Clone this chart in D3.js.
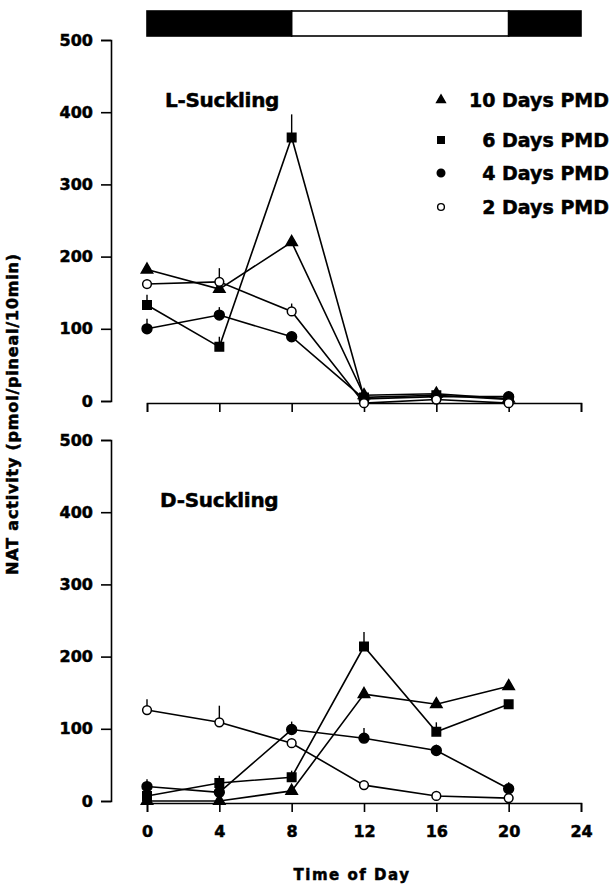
<!DOCTYPE html>
<html>
<head>
<meta charset="utf-8">
<script src="https://cdn.jsdelivr.net/npm/d3@7"></script>
<style>
  body { margin: 0; background: #fff; }
  svg { display: block; font-family: "DejaVu Sans", sans-serif; font-weight: bold; }
  svg text { fill: #000; stroke: #000; stroke-width: 0.5; }
  .axis path, .axis line { stroke: #000; stroke-width: 1.6; fill: none; }
  .axis text { font-family: "DejaVu Sans", sans-serif; font-weight: bold; font-size: 16px; }
  .series-line { fill: none; stroke: #000; stroke-width: 1.6; }
  .err { stroke: #000; stroke-width: 1.4; }
</style>
</head>
<body>
<div id="d3-target"></div>
<script>
const hours = [0, 4, 8, 12, 16, 20];
const xTicks = [0, 4, 8, 12, 16, 20, 24];
const yTicks = [0, 100, 200, 300, 400, 500];
const seriesNames = ['10 Days PMD', '6 Days PMD', '4 Days PMD', '2 Days PMD'];
const panelNames = ['L-Suckling', 'D-Suckling'];

// L-Suckling, NAT activity per time point
const l10 = [182, 155, 220, 8, 10, 3];
const l6 = [133, 75, 365, 5, 8, 2];
const l4 = [100, 119, 89, 3, 6, 6];
const l2 = [162, 165, 124, -3, 2, -3];
// L-Suckling, SEM (upper bar only)
const l10Err = [6, 6, 6, 4, 6, 3];
const l6Err = [14, 14, 32, 4, 4, 3];
const l4Err = [14, 11, 5, 3, 4, 4];
const l2Err = [6, 19, 11, 2, 3, 2];

// D-Suckling
const d10 = [0, 0, 14, 148, 134, 159];
const d6 = [7, 25, 33, 214, 96, 134];
const d4 = [20, 12, 99, 87, 70, 17];
const d2 = [126, 109, 80, 22, 7, 4];
const d10Err = [5, 5, 3, 5, 5, 3];
const d6Err = [8, 10, 9, 20, 13, 4];
const d4Err = [10, 8, 11, 14, 8, 9];
const d2Err = [15, 23, 5, 4, 5, 3];

// light/dark bar: [start, end, dark]
const lightPhases = [[0, 8, true], [8, 20, false], [20, 24, true]];

const width = 614, height = 886;

const x = d3.scaleLinear()
  .domain([0, 24])
  .range([147, 581]);

const panels = [
  {name: panelNames[0], top: 40, bottom: 401, labelX: 165,
   series: [[l10, l10Err], [l6, l6Err], [l4, l4Err], [l2, l2Err]]},
  {name: panelNames[1], top: 440, bottom: 801, labelX: 160,
   series: [[d10, d10Err], [d6, d6Err], [d4, d4Err], [d2, d2Err]]}
];

const symbols = [
  {type: d3.symbolTriangle, size: 56, fill: '#000'},
  {type: d3.symbolSquare, size: 72, fill: '#000'},
  {type: d3.symbolCircle, size: 76, fill: '#000'},
  {type: d3.symbolCircle, size: 60, fill: '#fff'}
];

const svg = d3.select('#d3-target')
  .append('svg')
  .attr('width', width)
  .attr('height', height);

// light:dark bar above the chart
svg.append('g')
  .selectAll('rect')
  .data(lightPhases)
  .enter().append('rect')
    .attr('x', d => x(d[0]))
    .attr('y', 11)
    .attr('width', d => x(d[1]) - x(d[0]))
    .attr('height', 25)
    .attr('fill', d => d[2] ? '#000' : '#fff')
    .attr('stroke', '#000')
    .attr('stroke-width', 1.6);

panels.forEach((p, pi) => {
  const y = d3.scaleLinear()
    .domain([0, 500])
    .range([p.bottom, p.top]);

  const g = svg.append('g');

  g.append('g')
    .attr('class', 'y axis')
    .attr('transform', 'translate(111,0)')
    .call(d3.axisLeft(y).tickValues(yTicks).tickSize(10).tickPadding(8));

  const xAxis = d3.axisBottom(x)
    .tickValues(xTicks)
    .tickSize(9)
    .tickPadding(14);
  if (pi === 0) xAxis.tickFormat('');

  g.append('g')
    .attr('class', 'x axis')
    .attr('transform', `translate(0,${y(0) + 2})`)
    .call(xAxis);

  g.append('text')
    .attr('x', p.labelX)
    .attr('y', y(0) - 294)
    .attr('font-size', 20)
    .attr('letter-spacing', -0.3)
    .text(p.name);

  const line = d3.line()
    .x((d, i) => x(hours[i]))
    .y(d => y(d));

  p.series.forEach(([vals, errs]) => {
    g.append('path')
      .datum(vals)
      .attr('class', 'series-line')
      .attr('d', line);

    g.selectAll(null)
      .data(vals)
      .enter().append('line')
        .attr('class', 'err')
        .attr('x1', (d, i) => x(hours[i]))
        .attr('x2', (d, i) => x(hours[i]))
        .attr('y1', d => y(d))
        .attr('y2', (d, i) => y(d + errs[i]));
  });

  p.series.forEach(([vals], si) => {
    const s = symbols[si];
    g.selectAll(null)
      .data(vals)
      .enter().append('path')
        .attr('d', d3.symbol().type(s.type).size(s.size))
        .attr('transform', (d, i) => `translate(${x(hours[i])},${y(d)})`)
        .attr('fill', s.fill)
        .attr('stroke', '#000')
        .attr('stroke-width', 1.5);
  });
});

// legend
const legendY = [100, 140, 173, 207];
const legend = svg.append('g');
legend.selectAll('path')
  .data(symbols)
  .enter().append('path')
    .attr('d', d => d3.symbol().type(d.type).size(d.size * 0.6)())
    .attr('transform', (d, i) => `translate(441,${legendY[i]})`)
    .attr('fill', d => d.fill)
    .attr('stroke', '#000')
    .attr('stroke-width', 1.4);
legend.selectAll('text')
  .data(seriesNames)
  .enter().append('text')
    .attr('x', 609)
    .attr('y', (d, i) => legendY[i] + 7)
    .attr('text-anchor', 'end')
    .attr('font-size', 19)
    .text(d => d);

svg.append('text')
  .attr('transform', 'translate(18,414) rotate(-90)')
  .attr('text-anchor', 'middle')
  .attr('font-size', 16)
  .attr('letter-spacing', 0.8)
  .text('NAT activity (pmol/pineal/10min)');

svg.append('text')
  .attr('x', 352)
  .attr('y', 880)
  .attr('text-anchor', 'middle')
  .attr('font-size', 15)
  .attr('letter-spacing', 1.5)
  .text('Time of Day');
</script>
</body>
</html>
